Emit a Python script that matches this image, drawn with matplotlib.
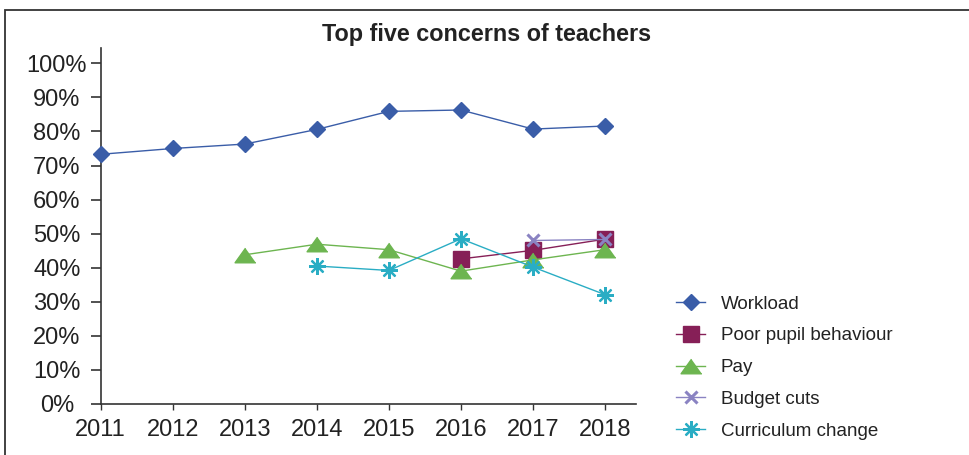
import matplotlib
matplotlib.use('Agg')
import matplotlib.pyplot as plt
from matplotlib.patches import Rectangle
from matplotlib.ticker import FuncFormatter

plt.rcParams['font.family'] = ['Liberation Sans', 'DejaVu Sans']

# Data (percent of teachers)
years = [2011, 2012, 2013, 2014, 2015, 2016, 2017, 2018]

workload_years = [2011, 2012, 2013, 2014, 2015, 2016, 2017, 2018]
workload = [73.3, 75.0, 76.3, 80.6, 85.9, 86.3, 80.7, 81.6]

behaviour_years = [2016, 2017, 2018]
behaviour = [42.6, 45.1, 48.4]

pay_years = [2013, 2014, 2015, 2016, 2017, 2018]
pay = [43.8, 46.9, 45.3, 39.0, 42.3, 45.3]

budget_years = [2017, 2018]
budget = [48.0, 48.3]

curriculum_years = [2014, 2015, 2016, 2017, 2018]
curriculum = [40.5, 39.2, 48.5, 40.2, 32.1]

y_ticks = [0, 10, 20, 30, 40, 50, 60, 70, 80, 90, 100]

W, H = 969, 455
fig = plt.figure(figsize=(W / 100, H / 100), dpi=100)
ax = fig.add_axes([100.7 / W, (H - 404) / H, 535.3 / W, 356 / H])

# wide, flat triangle like the original
tri = [(0, 0.7), (-1, -0.7), (1, -0.7)]

series = [
    ("Workload", workload_years, workload, "#3a5da8", "D", 8, 1.0),
    ("Poor pupil behaviour", behaviour_years, behaviour, "#861f57", "s", 11, 1.0),
    ("Pay", pay_years, pay, "#6db550", tri, 15, 1.0),
    ("Budget cuts", budget_years, budget, "#8a83c2", "x", 8, 2.2),
    ("Curriculum change", curriculum_years, curriculum, "#2aadc4", (8, 2, 0), 12, 1.6),
]

for label, xs, ys, color, marker, ms, mew in series:
    ax.plot(xs, ys, color=color, lw=1.0, marker=marker, markersize=ms,
            markeredgewidth=mew, markerfacecolor=color, markeredgecolor=color,
            label=label, clip_on=False, zorder=3)

ax.set_xlim(2011, 2018.43)
ax.set_ylim(0, 104.5)
ax.set_xticks(years)
ax.set_yticks(y_ticks)
ax.yaxis.set_major_formatter(FuncFormatter(lambda v, p: f"{int(v)}%"))

for side in ("top", "right"):
    ax.spines[side].set_visible(False)
for side in ("left", "bottom"):
    ax.spines[side].set_color("#333333")
    ax.spines[side].set_linewidth(1.2)

# y labels are centred in a column in the original
ax.tick_params(axis='y', length=7, width=1.2, color="#333333", pad=24.5,
               labelsize=17, labelcolor="#222222")
for lab in ax.get_yticklabels():
    lab.set_horizontalalignment('center')
ax.tick_params(axis='x', length=4.5, width=1.0, color="#333333", pad=6.5,
               labelsize=17, labelcolor="#222222")

fig.text(487 / W, 1 - 35 / H, "Top five concerns of teachers", ha='center',
         va='center', fontsize=16.8, fontweight='bold', color="#222222")

leg = fig.legend(loc='upper left', bbox_to_anchor=(676 / W, 1 - 295.5 / H),
                 frameon=False, fontsize=13.5, handlelength=1.55,
                 handletextpad=0.85, labelspacing=0.78, borderpad=0,
                 borderaxespad=0)
for t in leg.get_texts():
    t.set_color("#222222")

# outer frame, open past the right and bottom edges
fig.patches.append(Rectangle((5 / W, -0.1), 1.2, 1.1 - 10 / H, fill=False,
                             edgecolor="#333333", lw=1.3,
                             transform=fig.transFigure, figure=fig))

fig.savefig("out.png", dpi=100)
